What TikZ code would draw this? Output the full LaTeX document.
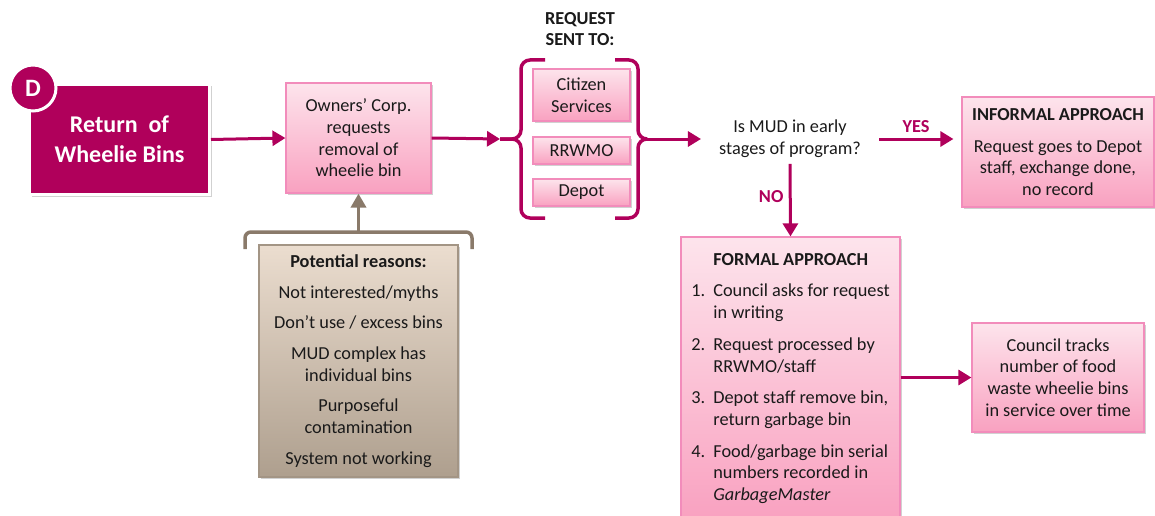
\documentclass[tikz,border=0pt]{standalone}
\usepackage{fontspec}
\setmainfont{Carlito}
\usetikzlibrary{arrows.meta,shadows}

\definecolor{plum}{HTML}{B0005B}
\definecolor{pinktop}{HTML}{FDE4EC}
\definecolor{pinkbot}{HTML}{F9A1C0}
\definecolor{pinkline}{HTML}{F28CBB}
\definecolor{sandtop}{HTML}{EBDDCF}
\definecolor{sandbot}{HTML}{AE9F8E}
\definecolor{sandline}{HTML}{A39585}
\definecolor{bracebrown}{HTML}{8A7A6A}
\definecolor{ink}{HTML}{1A1A1A}

\tikzset{
  every node/.style={font=\fontsize{18.3}{21.7}\selectfont, text=ink},
  softshadow/.style={drop shadow={opacity=0.3, shadow xshift=2pt, shadow yshift=-2pt, fill=black!60}},
  pinkbox/.style={draw=pinkline, line width=1.2pt, top color=pinktop, bottom color=pinkbot,
    softshadow, align=center, inner sep=0pt},
  sandbox/.style={draw=sandline, line width=1.2pt, top color=sandtop, bottom color=sandbot,
    softshadow, align=center, inner sep=0pt},
  flow/.style={draw=plum, line width=3pt, -{Triangle[length=13pt,width=15pt]}},
  bracket/.style={draw=plum, line width=3.5pt, rounded corners=9pt},
  tag/.style={font=\fontsize{18.3}{21.7}\selectfont\bfseries, text=plum},
}

\begin{document}
\begin{tikzpicture}[x=1pt, y=-1pt]
\useasboundingbox (0,0) rectangle (1155,516);

% title block with its letter badge
\node[fill=plum, draw=white, line width=3pt, minimum width=180pt, minimum height=110pt,
      softshadow, align=center, inner sep=0pt,
      font=\fontsize{24}{30}\selectfont\bfseries, text=white]
  (title) at (119.5,139.5) {Return\ \ of\\Wheelie Bins};
\node[circle, fill=plum, draw=white, line width=3pt, minimum size=46pt, inner sep=0pt,
      font=\fontsize{25}{25}\selectfont\bfseries, text=white]
  (badge) at (33,88) {D};

% request from the owners' corporation
\node[pinkbox, minimum width=145pt, minimum height=110pt] (owners) at (358.5,138)
  {Owners’ Corp.\\requests\\removal of\\wheelie bin};

% possible reasons
\node[sandbox, minimum width=199pt, minimum height=232pt] (reasons) at (358.5,361)
  {\textbf{Potential reasons:}\\[9pt]
   Not interested/myths\\[9pt]
   Don’t use / excess bins\\[9pt]
   MUD complex has\\individual bins\\[9pt]
   Purposeful\\contamination\\[9pt]
   System not working};

% where requests go
\node[font=\fontsize{18.3}{21.7}\selectfont\bfseries, align=center] (sentto) at (580,29)
  {REQUEST\\SENT TO:};
\node[pinkbox, minimum width=97pt, minimum height=52pt] (citizen) at (581.5,95) {Citizen\\Services};
\node[pinkbox, minimum width=97pt, minimum height=27pt] (rrwmo) at (581.5,150.5) {RRWMO};
\node[pinkbox, minimum width=97pt, minimum height=27pt] (depot) at (581.5,192.5) {Depot};

\coordinate (ltip) at (500,139);
\coordinate (rtip) at (642,139);
\draw[bracket] (545,60) -- (521,60) -- (521,139) -- (ltip);
\draw[bracket] (545,218) -- (521,218) -- (521,139) -- (ltip);
\draw[bracket] (615,60) -- (638,60) -- (638,139) -- (rtip);
\draw[bracket] (615,218) -- (638,218) -- (638,139) -- (rtip);

% decision
\node[align=center, inner xsep=18pt, inner ysep=6pt] (mud) at (790,139)
  {Is MUD in early\\stages of program?};

\node[pinkbox, minimum width=192pt, minimum height=110pt] (informal) at (1058,152)
  {\textbf{INFORMAL APPROACH}\\[10pt]Request goes to Depot\\staff, exchange done,\\no record};

\node[pinkbox, minimum width=219pt, minimum height=283pt, align=left] (formal) at (790.5,378.5)
  {\hspace*{22pt}\textbf{FORMAL APPROACH}\\[10pt]
   \makebox[22pt][l]{1.}Council asks for request\\
   \hspace*{22pt}in writing\\[10pt]
   \makebox[22pt][l]{2.}Request processed by\\
   \hspace*{22pt}RRWMO/staff\\[10pt]
   \makebox[22pt][l]{3.}Depot staff remove bin,\\
   \hspace*{22pt}return garbage bin\\[10pt]
   \makebox[22pt][l]{4.}Food/garbage bin serial\\
   \hspace*{22pt}numbers recorded in\\
   \hspace*{22pt}\textit{GarbageMaster}};

\node[pinkbox, minimum width=172pt, minimum height=109pt] (tracks) at (1058,377.5)
  {Council tracks\\number of food\\waste wheelie bins\\in service over time};

% connectors
\draw[flow] (title.east) -- (owners.west);
\draw[flow] (owners.east) -- (ltip);
\draw[flow] (rtip) -- (mud.west);
\draw[flow, shorten >=8pt] (mud.east) -- node[tag, above=2pt, pos=0.45] (yes) {YES} (mud.east -| informal.west);
\draw[flow] (mud.south) -- node[tag, left=2pt, pos=0.45] (no) {NO} (formal.north);
\draw[flow] (formal.east |- tracks.west) -- (tracks.west);

% bracket gathering the reasons
\coordinate (bmid) at (358.5,232);
\draw[draw=bracebrown, line width=3.5pt, rounded corners=6pt] (245,249) -- (245,232) -- (472,232) -- (472,249);
\draw[draw=bracebrown, line width=3.5pt, -{Triangle[length=14pt,width=15pt]}] (bmid) -- (owners.south);
\end{tikzpicture}
\end{document}
